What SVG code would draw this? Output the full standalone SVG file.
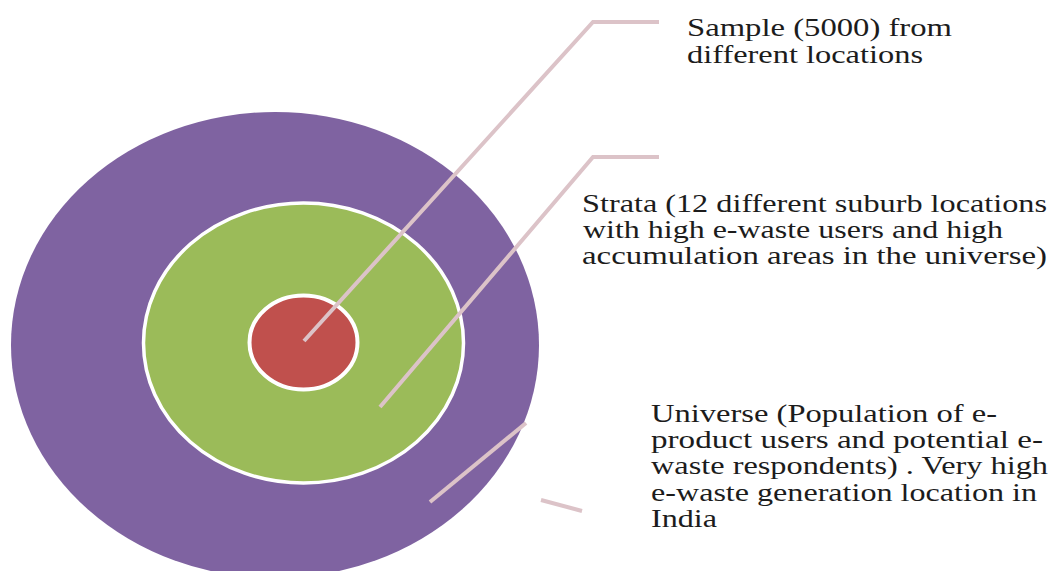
<svg xmlns="http://www.w3.org/2000/svg" width="1050" height="571" viewBox="0 0 1050 571">
  <style>
    .lbl { font-family: "Liberation Serif", "Times New Roman", serif; font-size: 25px; fill: #1c1c1c; }
    .lead { fill: none; stroke: #dcc3c8; stroke-width: 4; stroke-linecap: butt; stroke-linejoin: miter; }
  </style>
  <rect width="1050" height="571" fill="#ffffff"/>
  <g id="universe">
    <ellipse cx="275" cy="345" rx="264" ry="233" fill="#7f63a1"/>
  </g>
  <g id="strata">
    <ellipse cx="303.5" cy="343" rx="160" ry="140" fill="#9bbb59" stroke="#ffffff" stroke-width="3.5"/>
  </g>
  <g id="sample">
    <ellipse cx="303.5" cy="342.5" rx="54" ry="47" fill="#c0504d" stroke="#ffffff" stroke-width="4"/>
  </g>
  <g id="connectors">
    <polyline class="lead" points="304,341 593,22 659,22"/>
    <polyline class="lead" points="380,407 593,157 659,157"/>
    <line class="lead" x1="430" y1="502" x2="526" y2="423"/>
    <line class="lead" x1="541" y1="500" x2="582" y2="511"/>
  </g>
  <g id="label-sample">
    <text class="lbl" x="687" y="36" textLength="265" lengthAdjust="spacingAndGlyphs">Sample (5000) from</text>
    <text class="lbl" x="687" y="63" textLength="236" lengthAdjust="spacingAndGlyphs">different locations</text>
  </g>
  <g id="label-strata">
    <text class="lbl" x="582" y="212" textLength="465" lengthAdjust="spacingAndGlyphs">Strata (12 different suburb locations</text>
    <text class="lbl" x="583" y="238" textLength="420" lengthAdjust="spacingAndGlyphs">with high e-waste users and high</text>
    <text class="lbl" x="582" y="264" textLength="465" lengthAdjust="spacingAndGlyphs">accumulation areas in the universe)</text>
  </g>
  <g id="label-universe">
    <text class="lbl" x="651" y="422" textLength="346" lengthAdjust="spacingAndGlyphs">Universe (Population of e-</text>
    <text class="lbl" x="651" y="448" textLength="392" lengthAdjust="spacingAndGlyphs">product users and potential e-</text>
    <text class="lbl" x="651" y="474" textLength="397" lengthAdjust="spacingAndGlyphs">waste respondents) . Very high</text>
    <text class="lbl" x="651" y="501" textLength="386" lengthAdjust="spacingAndGlyphs">e-waste generation location in</text>
    <text class="lbl" x="651" y="527" textLength="66" lengthAdjust="spacingAndGlyphs">India</text>
  </g>
</svg>
